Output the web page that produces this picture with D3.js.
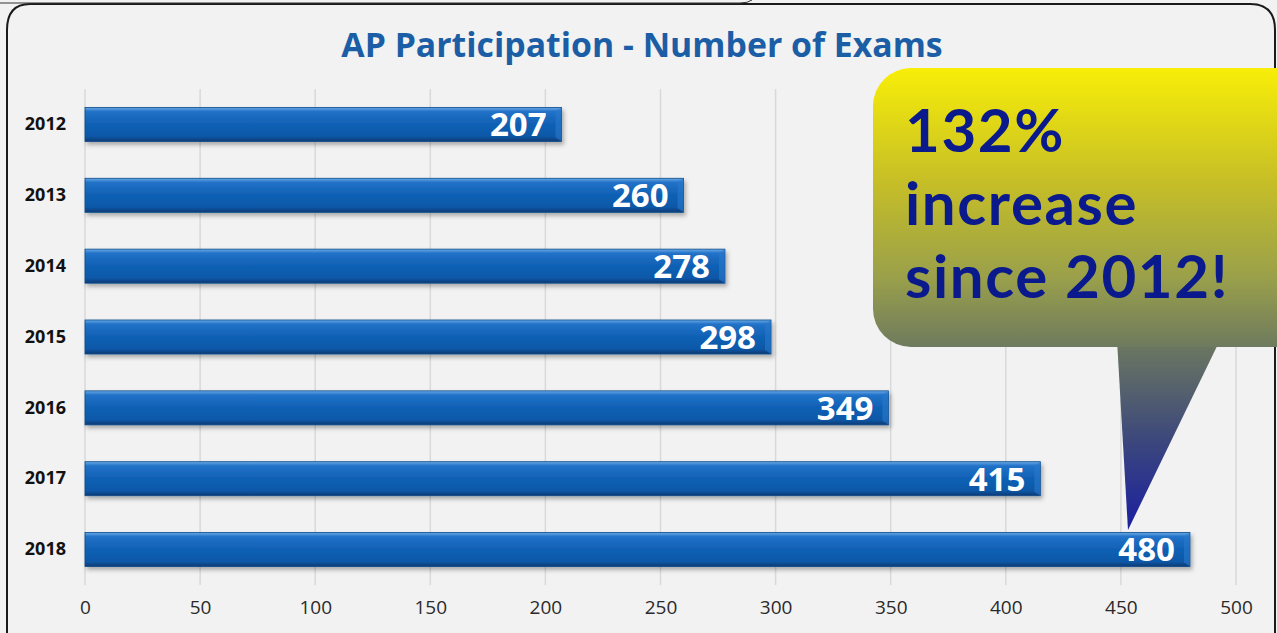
<!DOCTYPE html>
<html>
<head>
<meta charset="utf-8">
<script src="https://cdn.jsdelivr.net/npm/d3@7"></script>
<style>
  html, body { margin: 0; padding: 0; background: #ffffff; }
  svg { display: block; }
</style>
</head>
<body>
<div id="chart"></div>
<script>
var years = ["2012", "2013", "2014", "2015", "2016", "2017", "2018"];
var exams = [207, 260, 278, 298, 349, 415, 480];
var xTicks = [0, 50, 100, 150, 200, 250, 300, 350, 400, 450, 500];
var titleText = "AP Participation - Number of Exams";
var calloutLines = ["132%", "increase", "since 2012!"];

function init() {
    var W = 1277, H = 633;
    var font = "'Open Sans', 'DejaVu Sans', sans-serif";

    var svg = d3.select("#chart")
        .append("svg")
        .attr("width", W)
        .attr("height", H);

    var defs = svg.append("defs");

    // bar gradient (glossy blue)
    var bg = defs.append("linearGradient").attr("id", "barGrad")
        .attr("x1", 0).attr("y1", 0).attr("x2", 0).attr("y2", 1);
    bg.append("stop").attr("offset", "0%").attr("stop-color", "#6aaae6");
    bg.append("stop").attr("offset", "12%").attr("stop-color", "#2272c8");
    bg.append("stop").attr("offset", "50%").attr("stop-color", "#0f60b4");
    bg.append("stop").attr("offset", "85%").attr("stop-color", "#0b58a8");
    bg.append("stop").attr("offset", "100%").attr("stop-color", "#083a72");

    // callout gradient
    var cg = defs.append("linearGradient").attr("id", "calloutGrad")
        .attr("gradientUnits", "userSpaceOnUse")
        .attr("x1", 0).attr("y1", 68).attr("x2", 0).attr("y2", 347);
    cg.append("stop").attr("offset", "0%").attr("stop-color", "#f8ee08");
    cg.append("stop").attr("offset", "40%").attr("stop-color", "#c7bf26");
    cg.append("stop").attr("offset", "75%").attr("stop-color", "#9aa04a");
    cg.append("stop").attr("offset", "100%").attr("stop-color", "#6e7a5e");

    var pg = defs.append("linearGradient").attr("id", "pointerGrad")
        .attr("gradientUnits", "userSpaceOnUse")
        .attr("x1", 0).attr("y1", 340).attr("x2", 0).attr("y2", 530);
    pg.append("stop").attr("offset", "0%").attr("stop-color", "#6e7a5e");
    pg.append("stop").attr("offset", "50%").attr("stop-color", "#3e4a7a");
    pg.append("stop").attr("offset", "100%").attr("stop-color", "#1a1fa0");

    var sh = defs.append("filter").attr("id", "barShadow")
        .attr("x", "-5%").attr("y", "-30%").attr("width", "110%").attr("height", "180%");
    sh.append("feDropShadow").attr("dx", 2).attr("dy", 3)
        .attr("stdDeviation", 2).attr("flood-color", "#000").attr("flood-opacity", 0.3);

    // background & frame
    svg.append("rect").attr("x", 0).attr("y", 0).attr("width", W).attr("height", H)
        .attr("fill", "#f2f2f2");
    svg.append("path")
        .attr("d", "M7,633 L7,30 Q7,4 30,4 L1250,4 Q1275,4 1275,30 L1275,633")
        .attr("fill", "none").attr("stroke", "#1a1a1a").attr("stroke-width", 2);
    svg.append("path")
        .attr("d", "M0,3 L740,3 Q748,3 752,0")
        .attr("fill", "none").attr("stroke", "#333").attr("stroke-width", 1);

    var margin = { left: 85, right: 41, top: 89, bottom: 48 };
    var x = d3.scaleLinear().domain([0, 500]).range([margin.left, W - margin.right]);
    var y = d3.scaleBand().domain(years)
        .range([margin.top, H - margin.bottom])
        .paddingInner(0.52).paddingOuter(0.26);

    // title
    svg.append("text")
        .attr("x", 642).attr("y", 57)
        .attr("text-anchor", "middle")
        .attr("font-family", font)
        .attr("font-weight", "bold")
        .attr("font-size", 33.8)
        .attr("fill", "#1b5ea6")
        .text(titleText);

    // gridlines
    svg.append("g").selectAll("line")
        .data(xTicks)
        .enter()
        .append("line")
        .attr("x1", function(d) { return x(d); })
        .attr("x2", function(d) { return x(d); })
        .attr("y1", margin.top)
        .attr("y2", H - margin.bottom)
        .attr("stroke", "#d9d9d9")
        .attr("stroke-width", 1.5);

    // x axis
    var xAxis = svg.append("g")
        .attr("transform", "translate(0," + (H - margin.bottom) + ")")
        .call(d3.axisBottom(x).tickValues(xTicks).tickSize(0).tickPadding(16));
    xAxis.select(".domain").remove();
    xAxis.selectAll("text")
        .attr("font-family", font)
        .attr("font-size", 19)
        .attr("fill", "#2a2a2a");

    // y axis
    var yAxis = svg.append("g")
        .attr("transform", "translate(" + margin.left + ",0)")
        .call(d3.axisLeft(y).tickSize(0).tickPadding(19));
    yAxis.select(".domain").remove();
    yAxis.selectAll("text")
        .attr("font-family", font)
        .attr("font-weight", "bold")
        .attr("font-size", 18)
        .attr("fill", "#111");

    // bars
    var bars = svg.append("g").selectAll("g")
        .data(exams)
        .enter()
        .append("g");

    bars.append("rect")
        .attr("x", x(0))
        .attr("y", function(d, i) { return y(years[i]); })
        .attr("width", function(d) { return x(d) - x(0); })
        .attr("height", y.bandwidth())
        .attr("fill", "url(#barGrad)")
        .attr("stroke", "#0a4a8c")
        .attr("stroke-width", 0.8)
        .attr("filter", "url(#barShadow)");

    // bevel on bar end
    bars.append("path")
        .attr("d", function(d, i) {
            var x1 = x(d), y0 = y(years[i]), h = y.bandwidth();
            return "M" + (x1 - 6) + "," + (y0 + 4) + " L" + x1 + "," + y0 +
                " L" + x1 + "," + (y0 + h) + " L" + (x1 - 6) + "," + (y0 + h - 4) + "Z";
        })
        .attr("fill", "#2a78cc")
        .attr("opacity", 0.6);

    bars.append("text")
        .attr("x", function(d) { return x(d) - 15; })
        .attr("y", function(d, i) { return y(years[i]) + y.bandwidth() / 2; })
        .attr("dy", "0.36em")
        .attr("text-anchor", "end")
        .attr("font-family", font)
        .attr("font-weight", "bold")
        .attr("font-size", 33)
        .attr("fill", "#ffffff")
        .text(function(d) { return d; });

    // callout bubble
    var c = svg.append("g");
    c.append("path")
        .attr("d", "M1117,340 L1128,530 L1220,340 Z")
        .attr("fill", "url(#pointerGrad)");
    c.append("rect")
        .attr("x", 873).attr("y", 68)
        .attr("width", 440).attr("height", 279)
        .attr("rx", 38)
        .attr("fill", "url(#calloutGrad)");

    c.selectAll("text")
        .data(calloutLines)
        .enter()
        .append("text")
        .attr("x", 905)
        .attr("y", function(d, i) { return 152 + i * 73; })
        .attr("font-family", "Lato, 'Open Sans', sans-serif")
        .attr("font-weight", "bold")
        .attr("font-size", 60)
        .attr("letter-spacing", 1.6)
        .attr("fill", "#0a1a8c")
        .text(function(d) { return d; });
}

window.onload = init;
</script>
</body>
</html>
